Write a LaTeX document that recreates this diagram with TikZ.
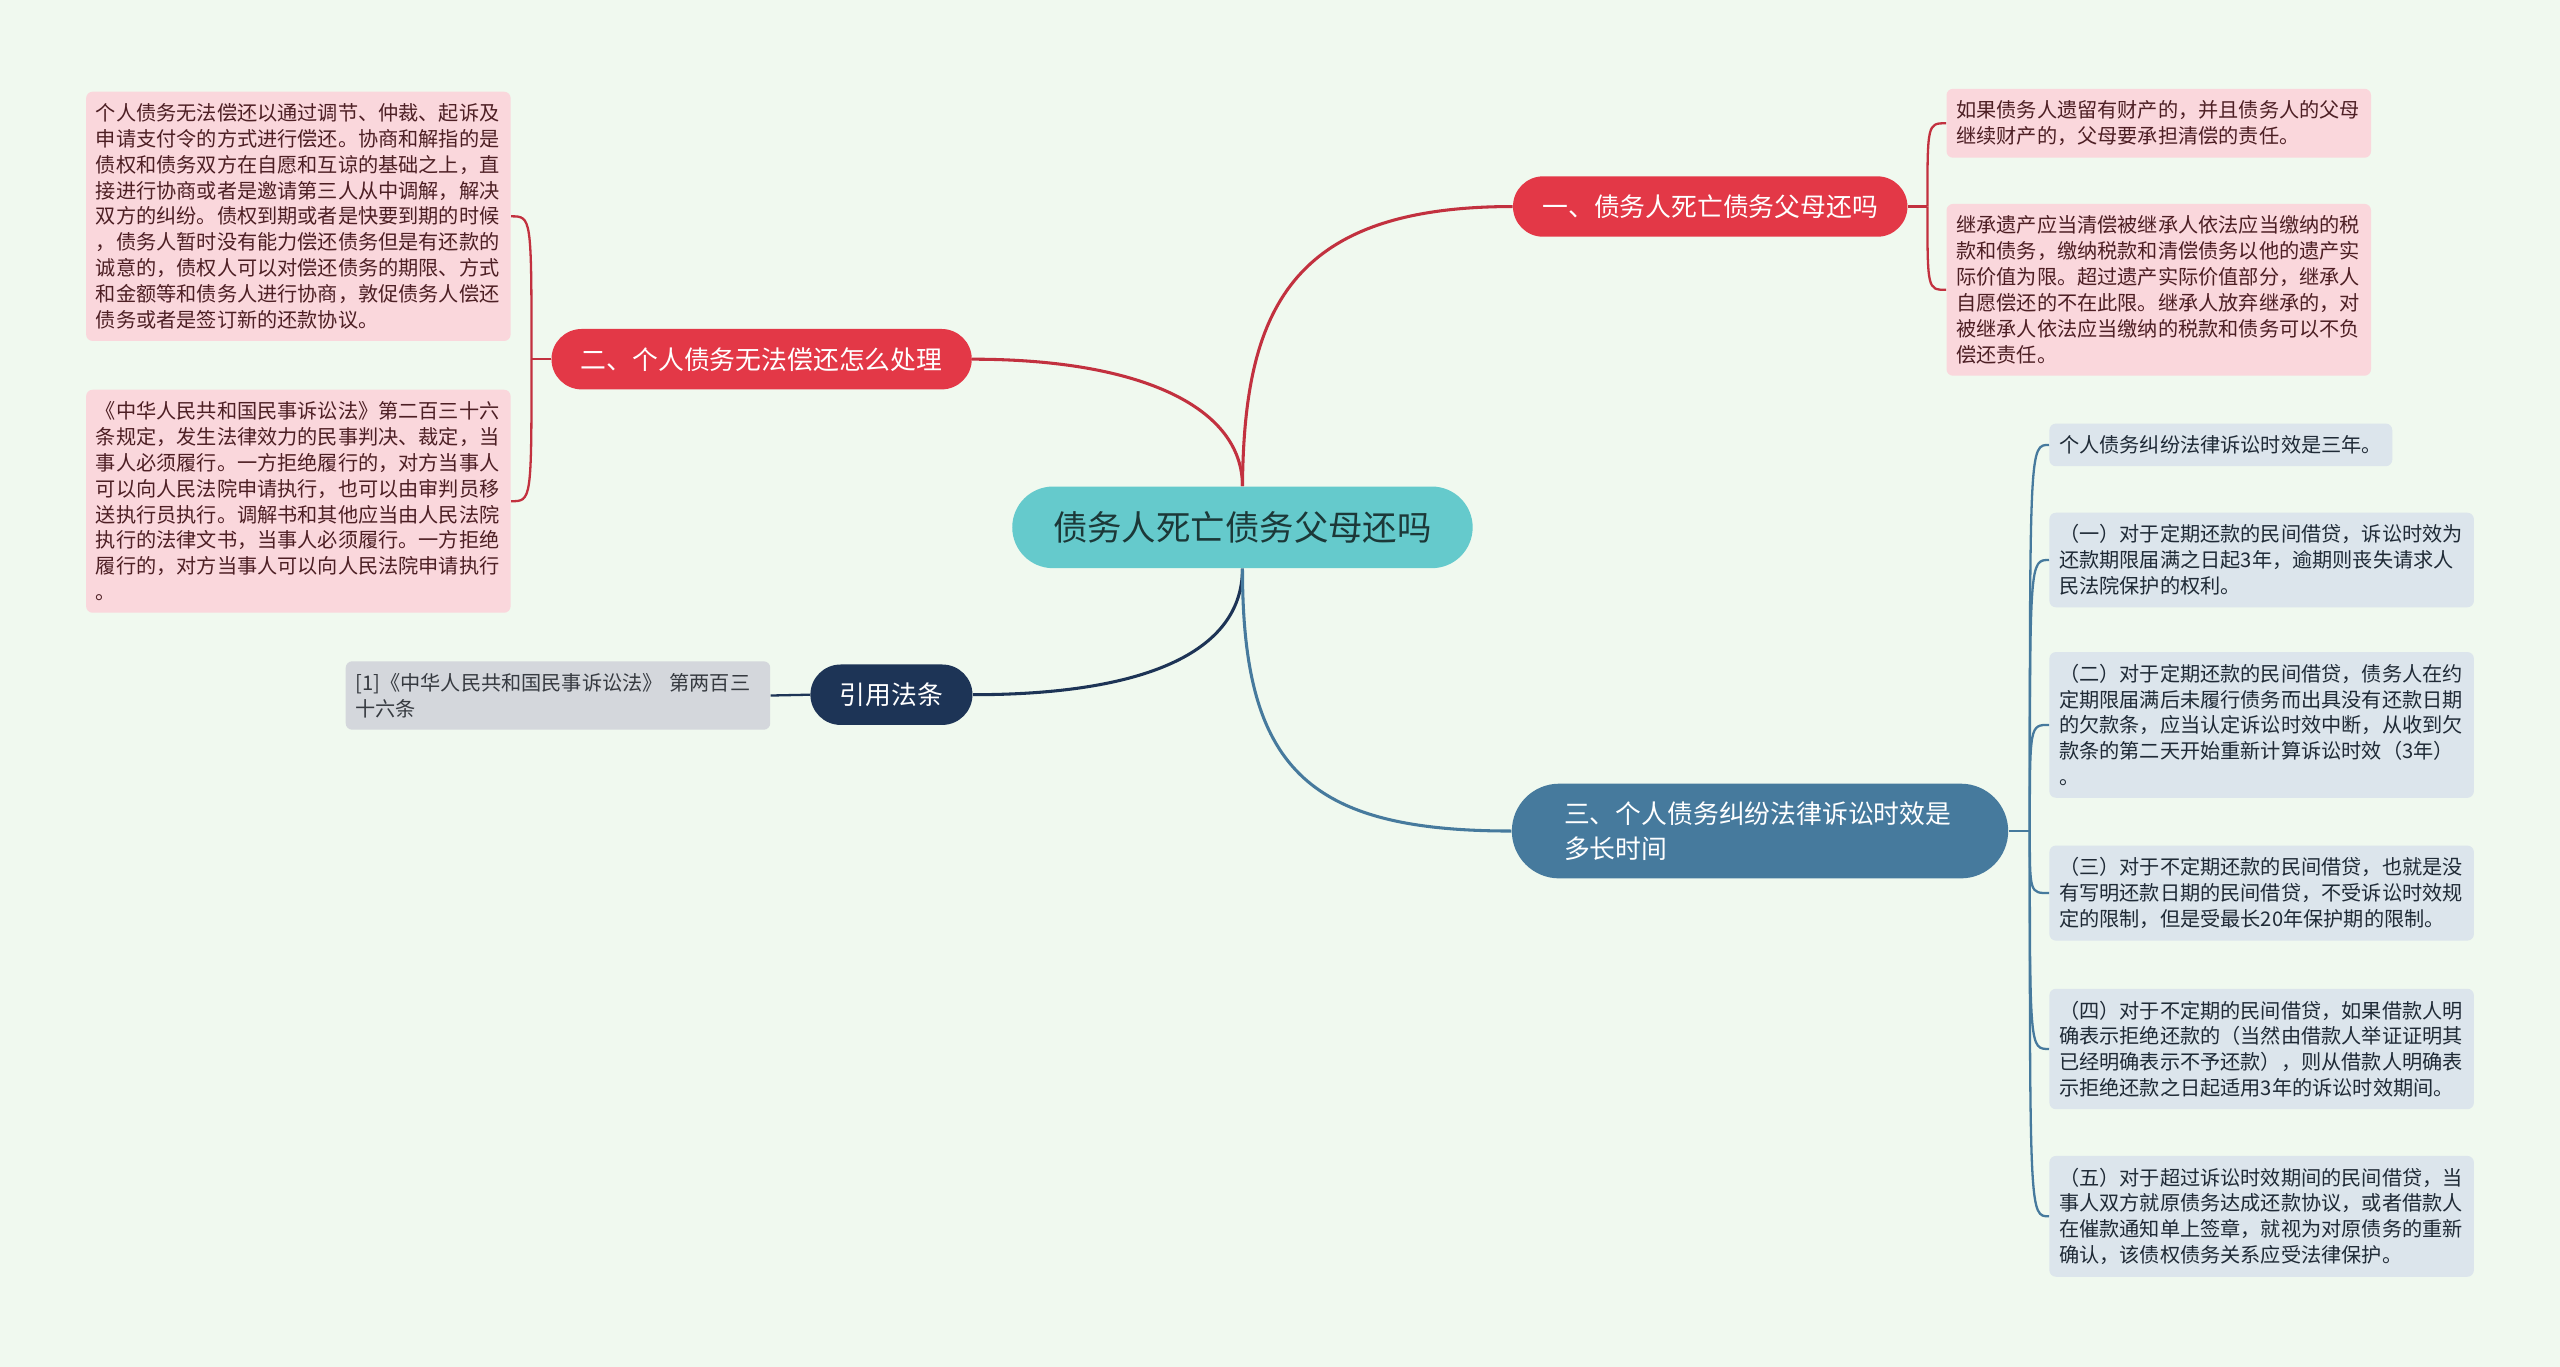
\documentclass[tikz,border=0pt]{standalone}
\usepackage{fontspec}
\setmainfont{Noto Sans CJK SC}
\usetikzlibrary{positioning}
\definecolor{bgc}{HTML}{F0F9EF}
\definecolor{rootc}{HTML}{65CACC}
\definecolor{roottxt}{HTML}{1C3838}
\definecolor{redc}{HTML}{E33847}
\definecolor{redln}{HTML}{C2313F}
\definecolor{navyc}{HTML}{1D3456}
\definecolor{steelc}{HTML}{467A9D}
\definecolor{pinkc}{HTML}{FAD7DC}
\definecolor{pinktxt}{HTML}{4D1F24}
\definecolor{bluec}{HTML}{DCE5EC}
\definecolor{bluetxt}{HTML}{1F2A36}
\definecolor{grayc}{HTML}{D4D7DC}
\definecolor{graytxt}{HTML}{363A40}

\begin{document}
\begin{tikzpicture}[
  x=0.03cm, y=-0.03cm,
  root/.style={fill=rootc, text=roottxt, rounded corners=0.75cm, minimum width=8.46cm, minimum height=1.5cm, font=\fontsize{18}{22}\selectfont},
  branch/.style={fill=#1, text=white, rounded corners=0.555cm, minimum height=1.11cm, inner xsep=0.54cm, font=\fontsize{13.5}{18}\selectfont},
  leaf/.style={fill=#1, rounded corners=0.12cm, inner xsep=0.18cm, inner ysep=0.22cm, align=left, text width=7.44cm, font=\fontsize{10.55}{13.5}\selectfont},
  pinkleaf/.style={leaf=pinkc, text=pinktxt},
  blueleaf/.style={leaf=bluec, text=bluetxt},
  main/.style={line width=1.6pt},
  link/.style={line width=1.2pt}
]
  \fill[bgc] (0,0) rectangle (1568,837);
  \useasboundingbox (0,0) rectangle (1568,837);

  \node[root] (root) at (761,323) {债务人死亡债务父母还吗};

  \node[branch=redc] (n1) at (1047.5,126.5) {一、债务人死亡债务父母还吗};
  \node[branch=redc] (n2) at (466.5,220) {二、个人债务无法偿还怎么处理};
  \node[branch=navyc] (law) at (546,425.5) {引用法条};
  \node[branch=steelc, rounded corners=0.87cm, minimum height=1.74cm, text width=7.2cm, inner xsep=0.96cm, align=left] (n3) at (1078,509) {三、个人债务纠纷法律诉讼时效是\\多长时间};

  \node[pinkleaf, anchor=west] (r1) at (1192,75.5) {如果债务人遗留有财产的，并且债务人的父母\\继续财产的，父母要承担清偿的责任。};
  \node[pinkleaf, anchor=west] (r2) at (1192,177.5) {继承遗产应当清偿被继承人依法应当缴纳的税\\款和债务，缴纳税款和清偿债务以他的遗产实\\际价值为限。超过遗产实际价值部分，继承人\\自愿偿还的不在此限。继承人放弃继承的，对\\被继承人依法应当缴纳的税款和债务可以不负\\偿还责任。};

  \node[pinkleaf, anchor=east] (l1) at (313,132.5) {个人债务无法偿还以通过调节、仲裁、起诉及\\申请支付令的方式进行偿还。协商和解指的是\\债权和债务双方在自愿和互谅的基础之上，直\\接进行协商或者是邀请第三人从中调解，解决\\双方的纠纷。债权到期或者是快要到期的时候\\，债务人暂时没有能力偿还债务但是有还款的\\诚意的，债权人可以对偿还债务的期限、方式\\和金额等和债务人进行协商，敦促债务人偿还\\债务或者是签订新的还款协议。};
  \node[pinkleaf, anchor=east] (l2) at (313,307) {《中华人民共和国民事诉讼法》第二百三十六\\条规定，发生法律效力的民事判决、裁定，当\\事人必须履行。一方拒绝履行的，对方当事人\\可以向人民法院申请执行，也可以由审判员移\\送执行员执行。调解书和其他应当由人民法院\\执行的法律文书，当事人必须履行。一方拒绝\\履行的，对方当事人可以向人民法院申请执行\\。};

  \node[leaf=grayc, text=graytxt, anchor=east] (ref) at (472,426) {[1]《中华人民共和国民事诉讼法》 第两百三\\十六条};

  \node[blueleaf, anchor=west, text width=5.94cm] (b0) at (1255,272.5) {个人债务纠纷法律诉讼时效是三年。};
  \node[blueleaf, anchor=west] (b1) at (1255,343) {（一）对于定期还款的民间借贷，诉讼时效为\\还款期限届满之日起3年，逾期则丧失请求人\\民法院保护的权利。};
  \node[blueleaf, anchor=west] (b2) at (1255,444) {（二）对于定期还款的民间借贷，债务人在约\\定期限届满后未履行债务而出具没有还款日期\\的欠款条，应当认定诉讼时效中断，从收到欠\\款条的第二天开始重新计算诉讼时效（3年）\\。};
  \node[blueleaf, anchor=west] (b3) at (1255,547) {（三）对于不定期还款的民间借贷，也就是没\\有写明还款日期的民间借贷，不受诉讼时效规\\定的限制，但是受最长20年保护期的限制。};
  \node[blueleaf, anchor=west] (b4) at (1255,642.5) {（四）对于不定期的民间借贷，如果借款人明\\确表示拒绝还款的（当然由借款人举证证明其\\已经明确表示不予还款），则从借款人明确表\\示拒绝还款之日起适用3年的诉讼时效期间。};
  \node[blueleaf, anchor=west] (b5) at (1255,745) {（五）对于超过诉讼时效期间的民间借贷，当\\事人双方就原债务达成还款协议，或者借款人\\在催款通知单上签章，就视为对原债务的重新\\确认，该债权债务关系应受法律保护。};

  \draw[main, redln] (root.north) .. controls (762,190) and (790,126.5) .. (n1.west);
  \draw[main, redln] (root.north) .. controls (761,250) and (700,220) .. (n2.east);
  \draw[main, navyc] (root.south) .. controls (761,400) and (700,425.5) .. (law.east);
  \draw[main, steelc] (root.south) .. controls (761,470) and (800,509) .. (n3.west);

  \draw[link, redln] (n1.east) -- ++(12,0) coordinate (j1);
  \draw[link, redln] (j1) .. controls (j1 |- r1.west) .. (r1.west);
  \draw[link, redln] (j1) .. controls (j1 |- r2.west) .. (r2.west);

  \draw[link, redln] (n2.west) -- ++(-12,0) coordinate (j2);
  \draw[link, redln] (j2) .. controls (j2 |- l1.east) .. (l1.east);
  \draw[link, redln] (j2) .. controls (j2 |- l2.east) .. (l2.east);

  \draw[link, navyc] (law.west) -- (ref.east);

  \draw[link, steelc] (n3.east) -- ++(13,0) coordinate (j3);
  \foreach \b in {b0,b1,b2,b3,b4,b5}
    \draw[link, steelc] (j3) .. controls (j3 |- \b.west) .. (\b.west);
\end{tikzpicture}
\end{document}
